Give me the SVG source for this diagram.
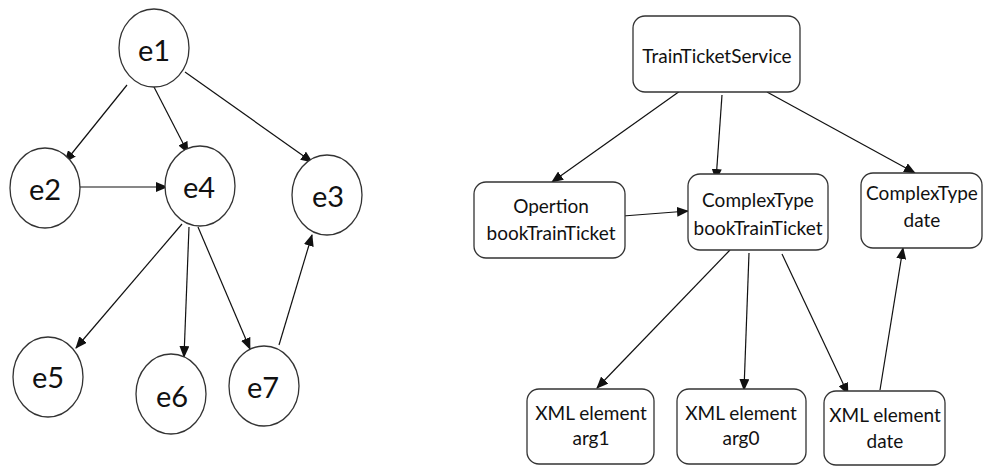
<svg xmlns="http://www.w3.org/2000/svg" width="984" height="466" viewBox="0 0 984 466">
<defs>
<marker id="ah" markerWidth="12" markerHeight="10" refX="11" refY="5" orient="auto" markerUnits="userSpaceOnUse">
<path d="M0,0 L12,5 L0,10 z" fill="#111"/>
</marker>
<style>
.n ellipse,.n rect{fill:#fff;stroke:#333;stroke-width:1.3}
.e{font-family:Lato,"Open Sans",sans-serif;font-size:29px;fill:#111;text-anchor:middle}
.t{font-family:Lato,"Open Sans",sans-serif;font-size:19px;fill:#111;text-anchor:middle}
#edges line{stroke:#111;stroke-width:1.2;marker-end:url(#ah)}
</style>
</defs>
<rect width="984" height="466" fill="#fff"/>
<g id="edges">
<line x1="127" y1="85" x2="65" y2="162"/>
<line x1="154" y1="87" x2="188" y2="153"/>
<line x1="185" y1="72" x2="312" y2="162"/>
<line x1="79" y1="187" x2="167" y2="187"/>
<line x1="182" y1="224" x2="76" y2="348"/>
<line x1="189" y1="227" x2="184" y2="357"/>
<line x1="198" y1="227" x2="250" y2="349"/>
<line x1="279" y1="345" x2="312" y2="235"/>
<line x1="680" y1="91" x2="552" y2="182"/>
<line x1="722" y1="95" x2="716" y2="180"/>
<line x1="767" y1="92" x2="915" y2="173"/>
<line x1="623" y1="216" x2="688" y2="211"/>
<line x1="730" y1="250" x2="597" y2="388"/>
<line x1="749" y1="253" x2="744" y2="390"/>
<line x1="782" y1="254" x2="848" y2="394"/>
<line x1="880" y1="390" x2="903" y2="248"/>
</g>
<g id="e1" class="n"><ellipse cx="154" cy="48" rx="35" ry="39"/><text class="e" x="154" y="61">e1</text></g>
<g id="e2" class="n"><ellipse cx="45" cy="188" rx="35" ry="40"/><text class="e" x="45" y="200">e2</text></g>
<g id="e4" class="n"><ellipse cx="200" cy="186" rx="35" ry="40"/><text class="e" x="199" y="198">e4</text></g>
<g id="e3" class="n"><ellipse cx="327" cy="195" rx="35" ry="40"/><text class="e" x="328" y="207">e3</text></g>
<g id="e5" class="n"><ellipse cx="48" cy="377" rx="35" ry="40"/><text class="e" x="48" y="388">e5</text></g>
<g id="e6" class="n"><ellipse cx="171" cy="394" rx="35" ry="40"/><text class="e" x="172" y="407">e6</text></g>
<g id="e7" class="n"><ellipse cx="264" cy="386" rx="35" ry="40"/><text class="e" x="263" y="398">e7</text></g>
<g id="tts" class="n"><rect x="633" y="16" width="167" height="76" rx="12"/><text class="t" x="717" y="63">TrainTicketService</text></g>
<g id="op" class="n"><rect x="474" y="182" width="151" height="76" rx="12"/><text class="t" x="551" y="213">Opertion</text><text class="t" x="551" y="240">bookTrainTicket</text></g>
<g id="ctb" class="n"><rect x="688" y="174" width="140" height="76" rx="12"/><text class="t" x="758" y="207">ComplexType</text><text class="t" x="758" y="235">bookTrainTicket</text></g>
<g id="ctd" class="n"><rect x="861" y="173" width="121" height="75" rx="12"/><text class="t" x="922" y="200">ComplexType</text><text class="t" x="922" y="227">date</text></g>
<g id="x1" class="n"><rect x="527" y="389" width="127" height="75" rx="12"/><text class="t" x="591" y="420">XML element</text><text class="t" x="591" y="445">arg1</text></g>
<g id="x0" class="n"><rect x="677" y="389" width="129" height="75" rx="12"/><text class="t" x="741" y="420">XML element</text><text class="t" x="741" y="445">arg0</text></g>
<g id="xd" class="n"><rect x="824" y="391" width="121" height="74" rx="12"/><text class="t" x="885" y="422">XML element</text><text class="t" x="885" y="448">date</text></g>
</svg>
